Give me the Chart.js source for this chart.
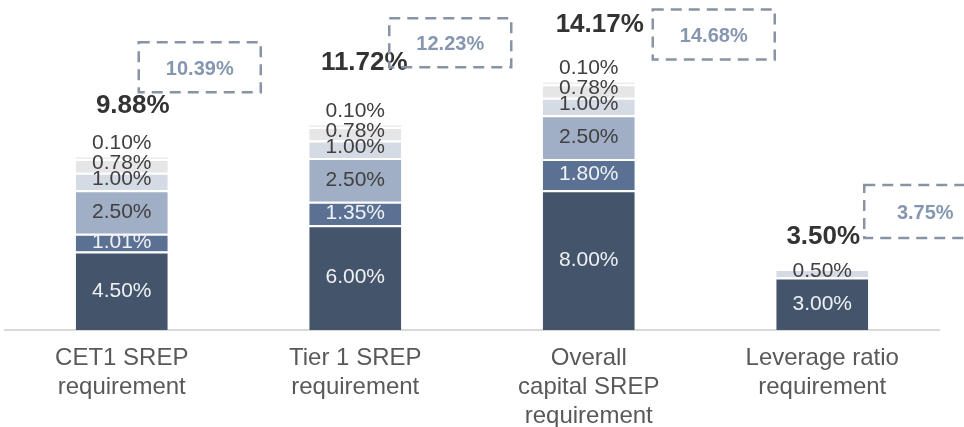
<!DOCTYPE html>
<html>
<head>
<meta charset="utf-8">
<script src="https://cdn.jsdelivr.net/npm/chart.js@4"></script>
<style>
  html, body { margin: 0; padding: 0; background: #ffffff; }
  #wrap { width: 964px; height: 427px; position: relative; }
</style>
</head>
<body>
<div id="wrap"><canvas id="c" width="964" height="427"></canvas></div>
<script>
// ---- data ----
const categories = [
  ['CET1 SREP', 'requirement'],
  ['Tier 1 SREP', 'requirement'],
  ['Overall', 'capital SREP', 'requirement'],
  ['Leverage ratio', 'requirement']
];
const pillar1 = [4.50, 6.00, 8.00, 3.00];
const pillar2R = [1.01, 1.35, 1.80, 0];
const conservationBuffer = [2.50, 2.50, 2.50, 0];
const systemicBuffer = [1.00, 1.00, 1.00, 0.50];
const osiiBuffer = [0.78, 0.78, 0.78, 0];
const countercyclical = [0.10, 0.10, 0.10, 0];
const totals = [9.88, 11.72, 14.17, 3.50];
const targets = [10.39, 12.23, 14.68, 3.75];

// ---- layout / style ----
const FONT = "'Liberation Sans', Arial, sans-serif";
const layerColors = ['#44546a', '#5b7193', '#a0afc5', '#d5dbe5', '#e6e6e6', '#eeeeee'];
const layerLabelColors = ['#eef1f5', '#eef1f5', '#404040', '#404040', '#404040', '#404040'];
const layerLabelDy = [0, 0, 0, -2, -3, -15];
const totalDx = [11, 9, 11, 1];
const totalDy = [-51, -62, -58, -32];
const boxDx = [-29, -12, 18, -4];
const boxDy = [-65, -58, -23, -31];
const boxH = [50, 49, 50, 53];
const boxW = 122;

const layers = [pillar1, pillar2R, conservationBuffer, systemicBuffer, osiiBuffer, countercyclical];

const labelPlugin = {
  id: 'labels',
  afterDatasetsDraw(chart) {
    const ctx = chart.ctx;
    const yScale = chart.scales.y;
    ctx.save();
    // segment labels
    ctx.textAlign = 'center';
    ctx.textBaseline = 'middle';
    ctx.font = '21px ' + FONT;
    chart.data.datasets.forEach((ds, d) => {
      const meta = chart.getDatasetMeta(d);
      meta.data.forEach((el, i) => {
        const v = ds.data[i];
        if (!v) return;
        const p = el.getProps(['x', 'y', 'base'], true);
        ctx.fillStyle = layerLabelColors[d];
        ctx.fillText(v.toFixed(2) + '%', p.x, (p.y + p.base) / 2 + layerLabelDy[d]);
      });
    });
    // totals and dashed target boxes
    const base = chart.getDatasetMeta(0);
    categories.forEach((c, i) => {
      const el = base.data[i];
      const p = el.getProps(['x', 'width'], true);
      let sum = 0;
      layers.forEach(l => sum += l[i]);
      const top = yScale.getPixelForValue(sum);
      ctx.font = 'bold 26px ' + FONT;
      ctx.fillStyle = '#333333';
      ctx.textAlign = 'center';
      ctx.fillText(totals[i].toFixed(2) + '%', p.x + totalDx[i], top + totalDy[i]);

      const right = p.x + p.width / 2;
      const bx = right + boxDx[i];
      const bBottom = top + boxDy[i];
      const bTop = bBottom - boxH[i];
      ctx.setLineDash([11, 7]);
      ctx.lineWidth = 2.5;
      ctx.strokeStyle = '#8893a5';
      ctx.strokeRect(bx, bTop, boxW, boxH[i]);
      ctx.setLineDash([]);
      ctx.font = 'bold 20px ' + FONT;
      ctx.fillStyle = '#8597b0';
      ctx.fillText(targets[i].toFixed(2) + '%', bx + boxW / 2, bTop + boxH[i] / 2 + 2);
    });
    ctx.restore();
  }
};

new Chart(document.getElementById('c'), {
  type: 'bar',
  data: {
    labels: categories,
    datasets: layers.map((l, d) => ({
      data: l,
      backgroundColor: layerColors[d],
      borderColor: '#ffffff',
      borderWidth: d === 5 ? 0 : { top: 2, left: 0, right: 0, bottom: 0 },
      borderSkipped: 'start',
      barPercentage: 1,
      categoryPercentage: 0.394
    }))
  },
  options: {
    responsive: false,
    animation: false,
    devicePixelRatio: 1,
    layout: { padding: { left: 5, right: 25, top: 0, bottom: 0 } },
    plugins: { legend: { display: false }, tooltip: { enabled: false } },
    scales: {
      x: {
        stacked: true,
        grid: { display: false, drawTicks: false },
        border: { display: true, color: '#d9d9d9', width: 2 },
        ticks: {
          color: '#595959',
          padding: 14,
          maxRotation: 0,
          autoSkip: false,
          font: { family: FONT, size: 24, lineHeight: 1.2 }
        },
        afterFit(scale) { scale.height = 97; }
      },
      y: {
        stacked: true,
        display: false,
        min: 0,
        max: 18.9
      }
    }
  },
  plugins: [labelPlugin]
});
</script>
</body>
</html>
